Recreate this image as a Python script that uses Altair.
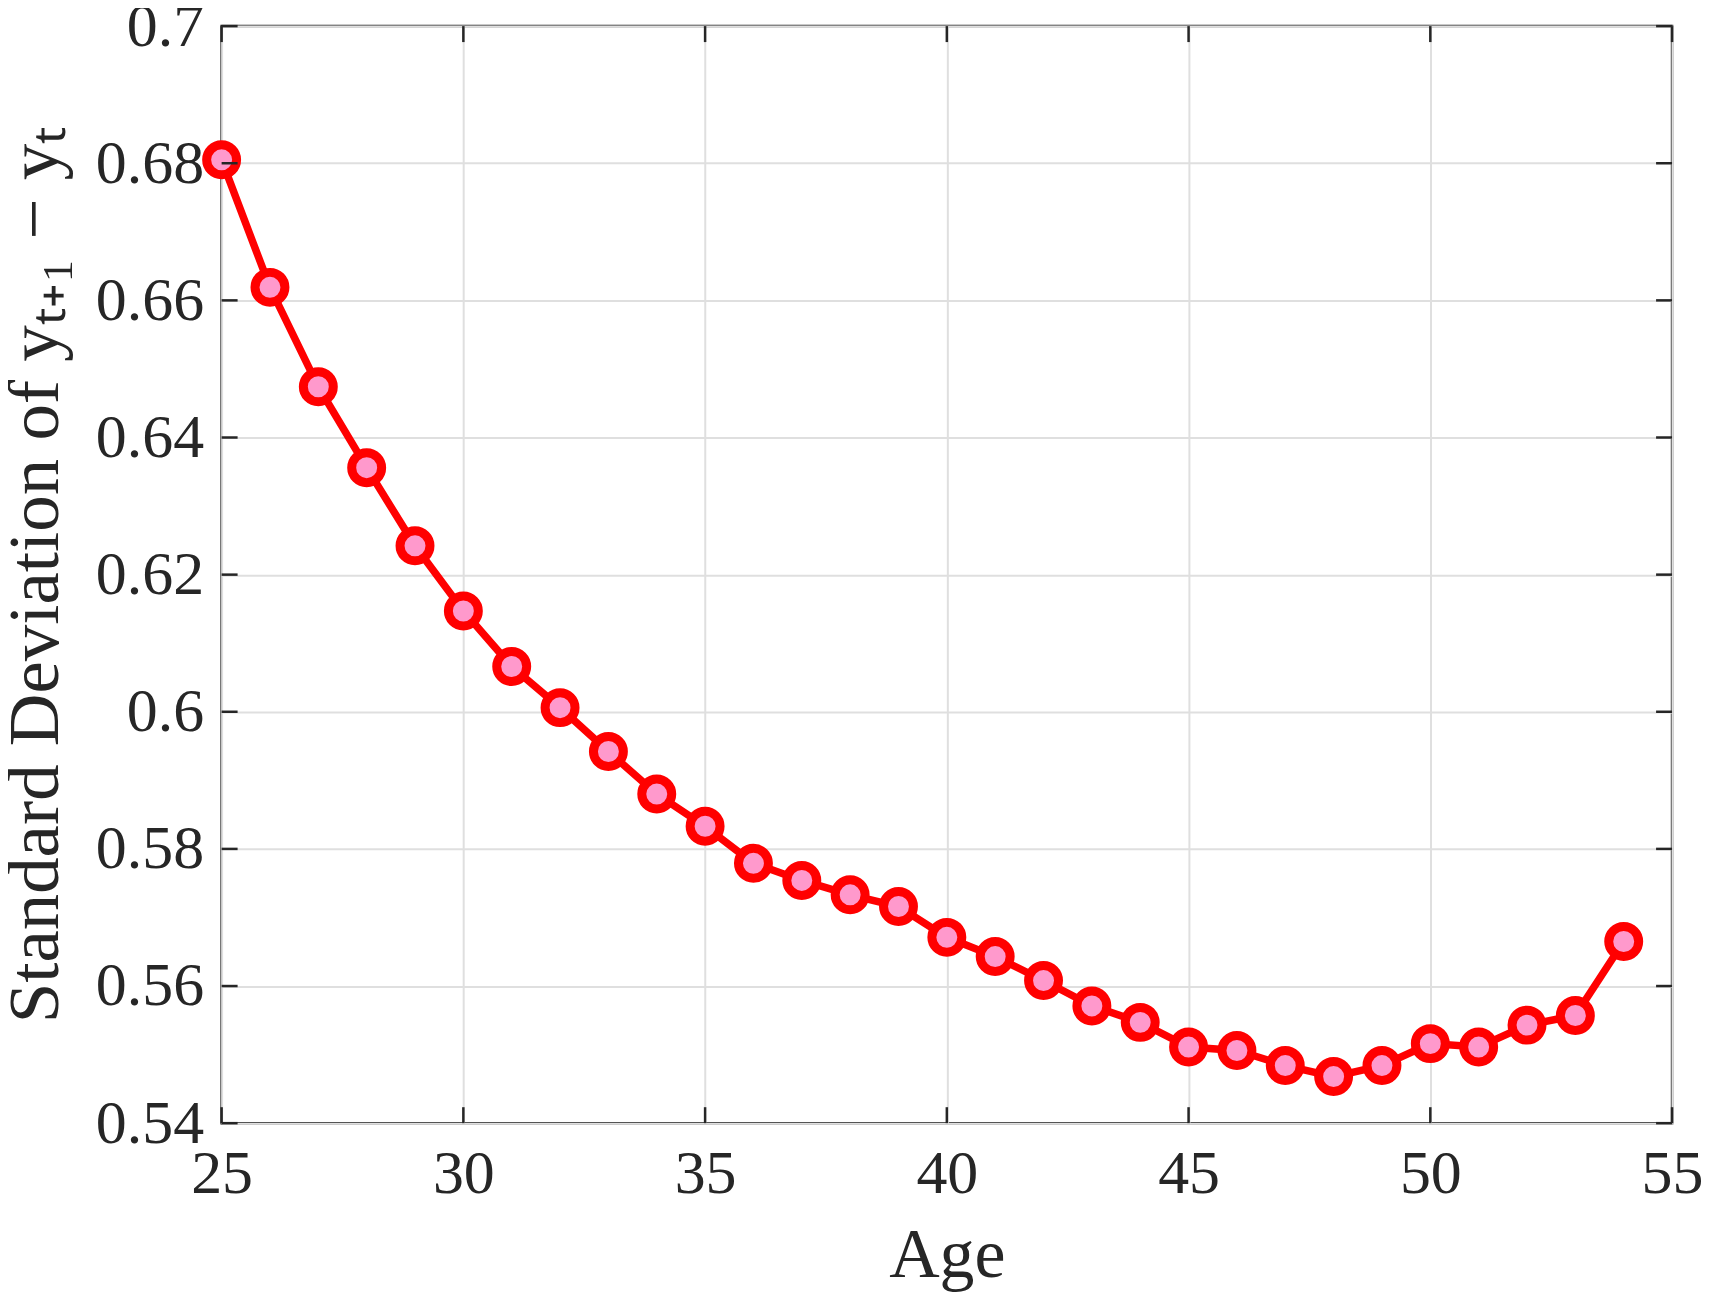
import pandas as pd
import altair as alt

# values
ages = list(range(25, 55))
sd_diff = [0.6805, 0.6619, 0.6474, 0.6356, 0.6242, 0.6147, 0.6066, 0.6006,
           0.5942, 0.5880, 0.5833, 0.5779, 0.5754, 0.5733, 0.5716, 0.5671,
           0.5643, 0.5608, 0.5571, 0.5547, 0.5511, 0.5506, 0.5484, 0.5468,
           0.5484, 0.5516, 0.5511, 0.5543, 0.5557, 0.5665]

x_ticks = [25, 30, 35, 40, 45, 50, 55]
y_ticks = [0.54, 0.56, 0.58, 0.6, 0.62, 0.64, 0.66, 0.68, 0.7]

W, H = 1453, 1099
TICK = 16
INK = "#262626"
FONT = "Liberation Serif"
X_TITLE = "Age"
Y_TITLE = "Standard Deviation of yₜ₊₁ − yₜ"

df = pd.DataFrame({"age": ages, "sd": sd_diff})
xt = pd.DataFrame({"t": x_ticks})
yt = pd.DataFrame({"t": y_ticks})

x_scale = alt.Scale(domain=[25, 55], nice=False, zero=False)
y_scale = alt.Scale(domain=[0.54, 0.7], nice=False, zero=False)
x_axis = alt.Axis(values=x_ticks, format="d", tickSize=0, domain=False,
                  labelFlush=False, labelOverlap=False,
                  labelPadding=20, titlePadding=18, titleFontSize=70)
y_axis = alt.Axis(values=y_ticks, format=".2~f", tickSize=0, domain=False,
                  labelFlush=False, labelOverlap=False,
                  labelPadding=18, titlePadding=23, titleFontSize=73)


def xq(field):
    return alt.X(field, type="quantitative", scale=x_scale, axis=x_axis, title=X_TITLE)


def yq(field):
    return alt.Y(field, type="quantitative", scale=y_scale, axis=y_axis, title=Y_TITLE)


line = alt.Chart(df).mark_line(color="#ff0000", strokeWidth=7.5).encode(x=xq("age"), y=yq("sd"))

# vega draws a circle of diameter sqrt(size)
points = alt.Chart(df).mark_point(
    shape="circle", filled=False, fill="#ff99cc", fillOpacity=1,
    stroke="#ff0000", strokeWidth=9, size=900, opacity=1
).encode(x=xq("age"), y=yq("sd"))

# inward ticks on all four sides (MATLAB style box)
tick_style = dict(color=INK, strokeWidth=2.5)
bottom_ticks = alt.Chart(xt).mark_rule(**tick_style).encode(
    x=xq("t"), y=alt.value(H), y2=alt.value(H - TICK))
top_ticks = alt.Chart(xt).mark_rule(**tick_style).encode(
    x=xq("t"), y=alt.value(0), y2=alt.value(TICK))
left_ticks = alt.Chart(yt).mark_rule(**tick_style).encode(
    y=yq("t"), x=alt.value(0), x2=alt.value(TICK))
right_ticks = alt.Chart(yt).mark_rule(**tick_style).encode(
    y=yq("t"), x=alt.value(W), x2=alt.value(W - TICK))

chart = alt.layer(
    line, points, bottom_ticks, top_ticks, left_ticks, right_ticks
).properties(
    width=W,
    height=H,
    autosize=alt.AutoSizeParams(type="none"),
    padding={"left": 214, "top": 17, "right": 30, "bottom": 170},
).configure_view(
    stroke=INK, strokeWidth=2.5
).configure_axis(
    grid=True, gridColor="#dfdfdf", gridWidth=2,
    labelFont=FONT, labelFontSize=62, labelColor=INK,
    titleFont=FONT, titleColor=INK, titleFontWeight="normal",
)

chart.save("out.html", embed_options={"renderer": "svg", "actions": False})
